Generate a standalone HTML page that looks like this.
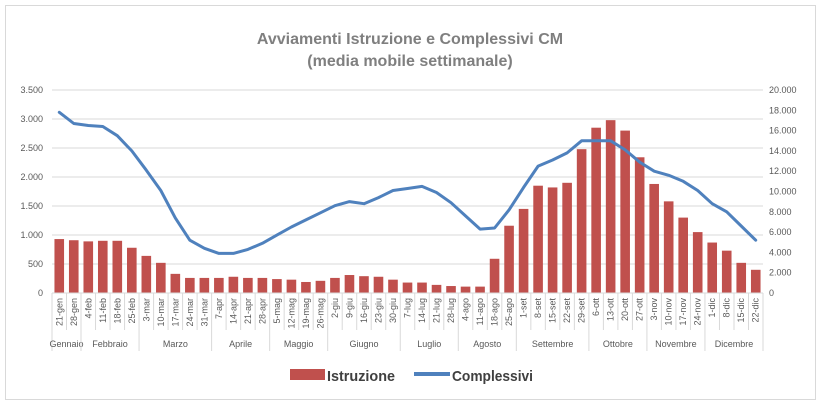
<!DOCTYPE html>
<html><head><meta charset="utf-8"><style>
body{margin:0;background:#fff;}
svg{display:block;font-family:"Liberation Sans",sans-serif;}
</style></head><body>
<svg id="c" width="822" height="407" xmlns="http://www.w3.org/2000/svg">
<rect x="5.5" y="5.5" width="810" height="394" fill="#fff" stroke="#d9d9d9"/>
<text x="410" y="44" text-anchor="middle" font-size="16" font-weight="bold" fill="#7f7f7f">Avviamenti Istruzione e Complessivi CM</text>
<text x="410" y="66" text-anchor="middle" font-size="16" font-weight="bold" fill="#7f7f7f">(media mobile settimanale)</text>
<rect x="290" y="369" width="35" height="11" fill="#c0504d"/>
<text x="327" y="381" font-size="15" font-weight="bold" fill="#404040" textLength="68" lengthAdjust="spacingAndGlyphs">Istruzione</text>
<line x1="414" y1="374" x2="450" y2="374" stroke="#4f81bd" stroke-width="4"/>
<text x="452" y="381" font-size="15" font-weight="bold" fill="#404040" textLength="81" lengthAdjust="spacingAndGlyphs">Complessivi</text>
<g id="g"></g>
</svg>
<script>
var labels=["21-gen","28-gen","4-feb","11-feb","18-feb","25-feb","3-mar","10-mar","17-mar","24-mar","31-mar","7-apr","14-apr","21-apr","28-apr","5-mag","12-mag","19-mag","26-mag","2-giu","9-giu","16-giu","23-giu","30-giu","7-lug","14-lug","21-lug","28-lug","4-ago","11-ago","18-ago","25-ago","1-set","8-set","15-set","22-set","29-set","6-ott","13-ott","20-ott","27-ott","3-nov","10-nov","17-nov","24-nov","1-dic","8-dic","15-dic","22-dic"];
var bars=[930,910,890,900,900,780,640,520,330,260,260,260,280,260,260,240,230,190,210,260,310,290,280,230,180,180,140,120,110,110,590,1160,1450,1850,1820,1900,2480,2850,2980,2800,2340,1880,1580,1300,1050,870,730,520,400];
var line=[17800,16700,16500,16400,15500,14000,12100,10100,7400,5200,4400,3900,3900,4300,4900,5700,6500,7200,7900,8600,9000,8800,9400,10100,10300,10500,9900,8900,7600,6300,6400,8200,10400,12500,13100,13800,15000,15000,15000,14100,12900,12000,11600,11000,10100,8800,8000,6600,5200];
var months=[["Gennaio",2],["Febbraio",4],["Marzo",5],["Aprile",4],["Maggio",4],["Giugno",5],["Luglio",4],["Agosto",4],["Settembre",5],["Ottobre",4],["Novembre",4],["Dicembre",4]];
var X0=52,X1=763,Y0=293,YT=90,n=49,w=(X1-X0)/n,s="";
function fmt(v){return v>=1000?Math.floor(v/1000)+"."+String(v%1000).padStart(3,"0"):String(v);}
for(var i=0;i<=7;i++){var y=Y0-(Y0-YT)*i/7;
 s+='<line x1="'+X0+'" x2="'+X1+'" y1="'+y+'" y2="'+y+'" stroke="#d9d9d9"/>';
 s+='<text x="43" y="'+(y+3)+'" text-anchor="end" font-size="9" fill="#595959">'+fmt(i*500)+'</text>';}
for(var i=0;i<=10;i++){var y=Y0-(Y0-YT)*i/10;
 s+='<text x="769" y="'+(y+3)+'" font-size="9" fill="#595959">'+fmt(i*2000)+'</text>';}
for(var i=0;i<n;i++){var cx=X0+w*(i+0.5),h=bars[i]/3500*(Y0-YT);
 s+='<rect x="'+(cx-4.8)+'" y="'+(Y0-h)+'" width="9.6" height="'+h+'" fill="#c0504d"/>';
 s+='<text transform="translate('+(cx+3)+',298) rotate(-90)" text-anchor="end" font-size="9" fill="#595959">'+labels[i]+'</text>';}
var k=0;
for(var m=0;m<months.length;m++){
 for(var j=1;j<months[m][1];j++){var x=X0+w*(k+j);s+='<line x1="'+x+'" x2="'+x+'" y1="'+Y0+'" y2="330" stroke="#d9d9d9"/>';}
 var xa=X0+w*k,xb=X0+w*(k+months[m][1]);
 s+='<line x1="'+xa+'" x2="'+xa+'" y1="'+Y0+'" y2="351" stroke="#d9d9d9"/>';
 s+='<text x="'+((xa+xb)/2)+'" y="347" text-anchor="middle" font-size="9" fill="#595959">'+months[m][0]+'</text>';
 k+=months[m][1];}
s+='<line x1="'+X1+'" x2="'+X1+'" y1="'+Y0+'" y2="351" stroke="#d9d9d9"/>';
s+='<line x1="'+X0+'" x2="'+X1+'" y1="'+Y0+'" y2="'+Y0+'" stroke="#d9d9d9"/>';
var p=[];for(var i=0;i<n;i++)p.push((X0+w*(i+0.5)).toFixed(1)+","+(Y0-line[i]/20000*(Y0-YT)).toFixed(1));
s+='<polyline points="'+p.join(" ")+'" fill="none" stroke="#4f81bd" stroke-width="3" stroke-linejoin="round" stroke-linecap="round"/>';
document.getElementById("g").innerHTML=s;
</script>
</body></html>
